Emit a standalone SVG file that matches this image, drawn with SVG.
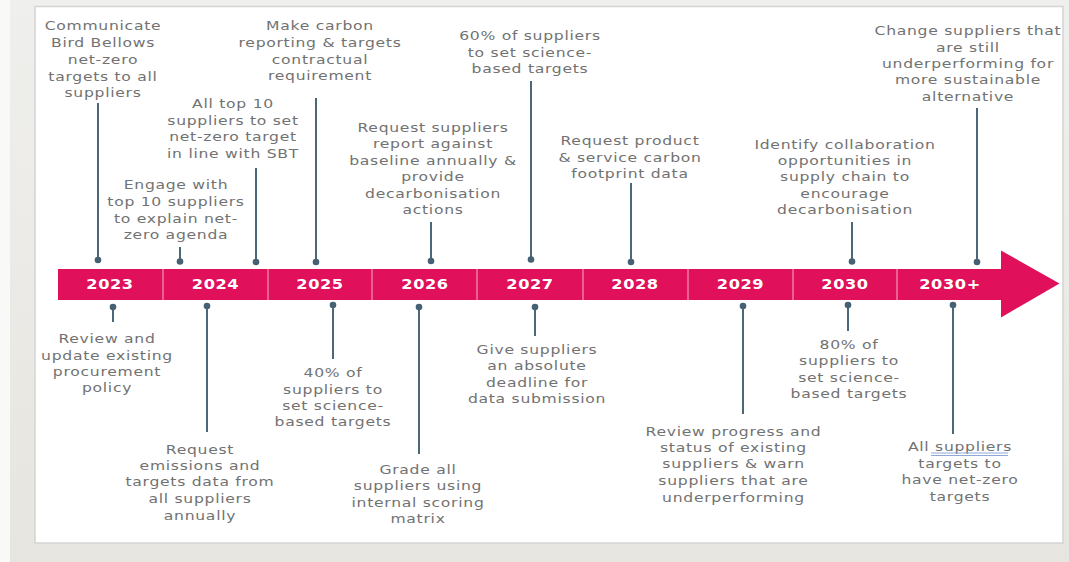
<svg xmlns="http://www.w3.org/2000/svg" width="1069" height="562" viewBox="0 0 1069 562">
<defs>
<style>
.lbl{font-family:"DejaVu Sans","Liberation Sans",sans-serif;font-size:13px;fill:#727272;letter-spacing:0.6px;text-anchor:middle}
.yr{font-family:"DejaVu Sans","Liberation Sans",sans-serif;font-size:13.5px;font-weight:bold;fill:#ffffff;letter-spacing:0.5px;text-anchor:middle}
.con{stroke:#4b6879;stroke-width:2;fill:none}
.dot{fill:#456173}
.div{stroke:#f07aa3;stroke-width:1.5}
</style>
<linearGradient id="bg" x1="0" y1="0" x2="0" y2="1">
<stop offset="0" stop-color="#efefed"/>
<stop offset="1" stop-color="#e7e5df"/>
</linearGradient>
</defs>
<rect x="0" y="0" width="1069" height="562" fill="url(#bg)"/>
<rect x="0" y="0" width="10" height="562" fill="#f9f9f8"/>
<rect x="35" y="6.5" width="1028" height="536.5" fill="#ffffff" stroke="#d4d4d2" stroke-width="1.5"/>

<g id="timeline">
<rect x="58" y="269" width="945" height="31" fill="#e0105a"/>
<polygon points="1001,250.5 1059.5,283.5 1001,317.5" fill="#e0105a"/>
<line class="div" x1="163" y1="269" x2="163" y2="300"/>
<line class="div" x1="268" y1="269" x2="268" y2="300"/>
<line class="div" x1="372" y1="269" x2="372" y2="300"/>
<line class="div" x1="477" y1="269" x2="477" y2="300"/>
<line class="div" x1="583" y1="269" x2="583" y2="300"/>
<line class="div" x1="688" y1="269" x2="688" y2="300"/>
<line class="div" x1="793" y1="269" x2="793" y2="300"/>
<line class="div" x1="897" y1="269" x2="897" y2="300"/>
<g transform="translate(110 0) scale(1.2 1)"><text class="yr" x="0" y="289">2023</text></g>
<g transform="translate(215.5 0) scale(1.2 1)"><text class="yr" x="0" y="289">2024</text></g>
<g transform="translate(320 0) scale(1.2 1)"><text class="yr" x="0" y="289">2025</text></g>
<g transform="translate(425 0) scale(1.2 1)"><text class="yr" x="0" y="289">2026</text></g>
<g transform="translate(530 0) scale(1.2 1)"><text class="yr" x="0" y="289">2027</text></g>
<g transform="translate(635 0) scale(1.2 1)"><text class="yr" x="0" y="289">2028</text></g>
<g transform="translate(740.5 0) scale(1.2 1)"><text class="yr" x="0" y="289">2029</text></g>
<g transform="translate(845 0) scale(1.2 1)"><text class="yr" x="0" y="289">2030</text></g>
<g transform="translate(950 0) scale(1.2 1)"><text class="yr" x="0" y="289">2030+</text></g>
</g>

<g id="connectors">
<line class="con" x1="98" y1="103" x2="98" y2="260"/><circle class="dot" cx="98" cy="260" r="3.3"/>
<line class="con" x1="180" y1="247" x2="180" y2="261.5"/><circle class="dot" cx="180" cy="261.5" r="3.3"/>
<line class="con" x1="256" y1="168" x2="256" y2="262"/><circle class="dot" cx="256" cy="262" r="3.3"/>
<line class="con" x1="316" y1="98" x2="316" y2="262"/><circle class="dot" cx="316" cy="262" r="3.3"/>
<line class="con" x1="431" y1="222" x2="431" y2="261"/><circle class="dot" cx="431" cy="261" r="3.3"/>
<line class="con" x1="531" y1="81" x2="531" y2="259.5"/><circle class="dot" cx="531" cy="259.5" r="3.3"/>
<line class="con" x1="631" y1="183" x2="631" y2="262"/><circle class="dot" cx="631" cy="262" r="3.3"/>
<line class="con" x1="852" y1="222" x2="852" y2="261.5"/><circle class="dot" cx="852" cy="261.5" r="3.3"/>
<line class="con" x1="977" y1="108" x2="977" y2="262"/><circle class="dot" cx="977" cy="262" r="3.3"/>
<line class="con" x1="113" y1="307" x2="113" y2="322"/><circle class="dot" cx="113" cy="307" r="3.3"/>
<line class="con" x1="207" y1="306" x2="207" y2="432"/><circle class="dot" cx="207" cy="306" r="3.3"/>
<line class="con" x1="333" y1="305" x2="333" y2="359"/><circle class="dot" cx="333" cy="305" r="3.3"/>
<line class="con" x1="419" y1="307" x2="419" y2="454"/><circle class="dot" cx="419" cy="307" r="3.3"/>
<line class="con" x1="535" y1="307" x2="535" y2="336"/><circle class="dot" cx="535" cy="307" r="3.3"/>
<line class="con" x1="743" y1="306" x2="743" y2="414"/><circle class="dot" cx="743" cy="306" r="3.3"/>
<line class="con" x1="848" y1="305" x2="848" y2="331"/><circle class="dot" cx="848" cy="305" r="3.3"/>
<line class="con" x1="953" y1="305" x2="953" y2="434"/><circle class="dot" cx="953" cy="305" r="3.3"/>
</g>

<g id="n-2023-top" transform="translate(103 0) scale(1.2 1)">
<text class="lbl"><tspan x="0" y="30">Communicate</tspan><tspan x="0" y="47">Bird Bellows</tspan><tspan x="0" y="64">net-zero</tspan><tspan x="0" y="81">targets to all</tspan><tspan x="0" y="97">suppliers</tspan></text>
</g>
<g id="n-2024-engage" transform="translate(176 0) scale(1.2 1)">
<text class="lbl"><tspan x="0" y="189">Engage with</tspan><tspan x="0" y="206">top 10 suppliers</tspan><tspan x="0" y="223">to explain net-</tspan><tspan x="0" y="239">zero agenda</tspan></text>
</g>
<g id="n-2024-top10" transform="translate(233 0) scale(1.2 1)">
<text class="lbl"><tspan x="0" y="108.5">All top 10</tspan><tspan x="0" y="125">suppliers to set</tspan><tspan x="0" y="141">net-zero target</tspan><tspan x="0" y="158">in line with SBT</tspan></text>
</g>
<g id="n-2025-top" transform="translate(320 0) scale(1.2 1)">
<text class="lbl"><tspan x="0" y="30">Make carbon</tspan><tspan x="0" y="47">reporting &amp; targets</tspan><tspan x="0" y="64">contractual</tspan><tspan x="0" y="80">requirement</tspan></text>
</g>
<g id="n-2026-top" transform="translate(433 0) scale(1.2 1)">
<text class="lbl"><tspan x="0" y="132">Request suppliers</tspan><tspan x="0" y="148.5">report against</tspan><tspan x="0" y="165">baseline annually &amp;</tspan><tspan x="0" y="181">provide</tspan><tspan x="0" y="198">decarbonisation</tspan><tspan x="0" y="214.5">actions</tspan></text>
</g>
<g id="n-2027-top" transform="translate(530 0) scale(1.2 1)">
<text class="lbl"><tspan x="0" y="40.5">60% of suppliers</tspan><tspan x="0" y="57">to set science-</tspan><tspan x="0" y="73.5">based targets</tspan></text>
</g>
<g id="n-2028-top" transform="translate(630 0) scale(1.2 1)">
<text class="lbl"><tspan x="0" y="145">Request product</tspan><tspan x="0" y="162">&amp; service carbon</tspan><tspan x="0" y="178.5">footprint data</tspan></text>
</g>
<g id="n-2030-top" transform="translate(845 0) scale(1.2 1)">
<text class="lbl"><tspan x="0" y="149">Identify collaboration</tspan><tspan x="0" y="165">opportunities in</tspan><tspan x="0" y="181">supply chain to</tspan><tspan x="0" y="198">encourage</tspan><tspan x="0" y="214.5">decarbonisation</tspan></text>
</g>
<g id="n-2030plus-top" transform="translate(968 0) scale(1.2 1)">
<text class="lbl"><tspan x="0" y="35">Change suppliers that</tspan><tspan x="0" y="52">are still</tspan><tspan x="0" y="68">underperforming for</tspan><tspan x="0" y="84.5">more sustainable</tspan><tspan x="0" y="101">alternative</tspan></text>
</g>

<g id="n-2023-bottom" transform="translate(107 0) scale(1.2 1)">
<text class="lbl"><tspan x="0" y="343.5">Review and</tspan><tspan x="0" y="360">update existing</tspan><tspan x="0" y="376">procurement</tspan><tspan x="0" y="392">policy</tspan></text>
</g>
<g id="n-2024-bottom" transform="translate(200 0) scale(1.2 1)">
<text class="lbl"><tspan x="0" y="454">Request</tspan><tspan x="0" y="470">emissions and</tspan><tspan x="0" y="486">targets data from</tspan><tspan x="0" y="503">all suppliers</tspan><tspan x="0" y="520">annually</tspan></text>
</g>
<g id="n-2025-bottom" transform="translate(333 0) scale(1.2 1)">
<text class="lbl"><tspan x="0" y="377">40% of</tspan><tspan x="0" y="394">suppliers to</tspan><tspan x="0" y="410">set science-</tspan><tspan x="0" y="426">based targets</tspan></text>
</g>
<g id="n-2026-bottom" transform="translate(418 0) scale(1.2 1)">
<text class="lbl"><tspan x="0" y="474">Grade all</tspan><tspan x="0" y="490.5">suppliers using</tspan><tspan x="0" y="507">internal scoring</tspan><tspan x="0" y="523">matrix</tspan></text>
</g>
<g id="n-2027-bottom" transform="translate(537 0) scale(1.2 1)">
<text class="lbl"><tspan x="0" y="354">Give suppliers</tspan><tspan x="0" y="370.5">an absolute</tspan><tspan x="0" y="387">deadline for</tspan><tspan x="0" y="403">data submission</tspan></text>
</g>
<g id="n-2029-bottom" transform="translate(733.5 0) scale(1.2 1)">
<text class="lbl"><tspan x="0" y="436">Review progress and</tspan><tspan x="0" y="452">status of existing</tspan><tspan x="0" y="468.5">suppliers &amp; warn</tspan><tspan x="0" y="485">suppliers that are</tspan><tspan x="0" y="502">underperforming</tspan></text>
</g>
<g id="n-2030-bottom" transform="translate(849 0) scale(1.2 1)">
<text class="lbl"><tspan x="0" y="349">80% of</tspan><tspan x="0" y="365.5">suppliers to</tspan><tspan x="0" y="382">set science-</tspan><tspan x="0" y="398">based targets</tspan></text>
</g>
<g id="n-2030plus-bottom">
<g transform="translate(960 0) scale(1.2 1)">
<text class="lbl"><tspan x="0" y="451">All suppliers</tspan><tspan x="0" y="468">targets to</tspan><tspan x="0" y="484.5">have net-zero</tspan><tspan x="0" y="501">targets</tspan></text>
</g>
<line x1="931" y1="453" x2="1008" y2="453" stroke="#8fa8d8" stroke-width="1"/>
<line x1="931" y1="455.5" x2="1008" y2="455.5" stroke="#8fa8d8" stroke-width="1"/>
</g>
</svg>
